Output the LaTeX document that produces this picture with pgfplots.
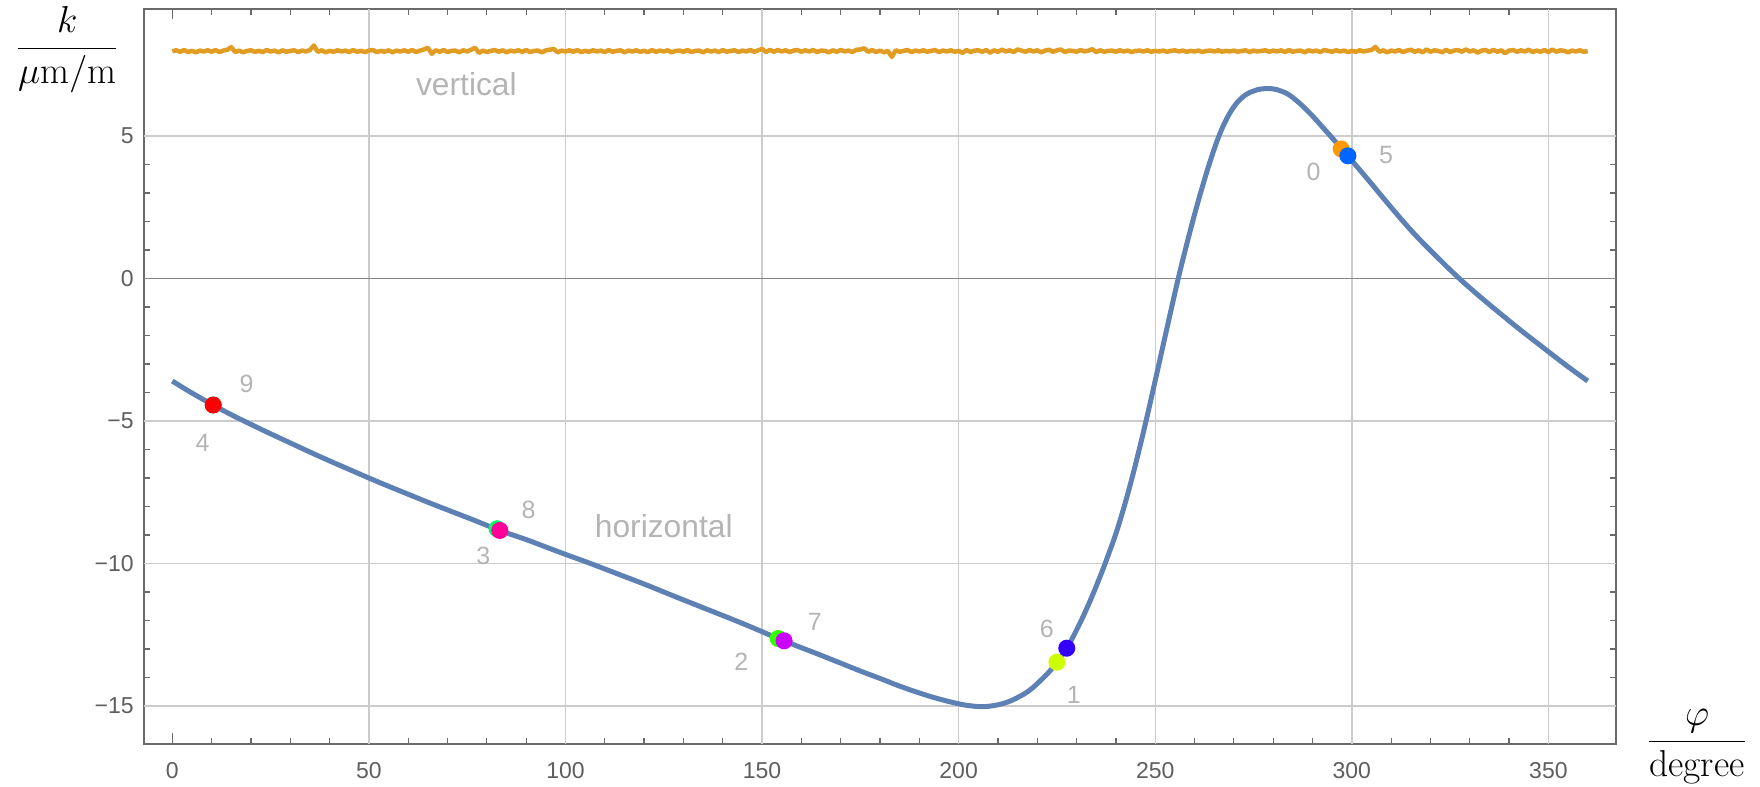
\RequirePackage{fix-cm}
\documentclass[border=0pt]{standalone}
\usepackage{pgfplots}
\pgfplotsset{compat=1.18}
\usepackage{fontspec}
\newfontfamily\mmafont{Liberation Sans}

\definecolor{curveblue}{HTML}{5E81B5}
\definecolor{vorange}{HTML}{E19C24}
\definecolor{framegray}{HTML}{6A6A6A}
\definecolor{gridgray}{HTML}{CCCCCC}
\definecolor{zerogray}{HTML}{858585}
\definecolor{tickgray}{HTML}{5E5E5E}
\definecolor{lblgray}{HTML}{B4B4B4}
\definecolor{c0}{HTML}{FF9900}
\definecolor{c1}{HTML}{CCFF00}
\definecolor{c2}{HTML}{33FF00}
\definecolor{c3}{HTML}{00FF66}
\definecolor{c4}{HTML}{00FFFF}
\definecolor{c5}{HTML}{0066FF}
\definecolor{c6}{HTML}{3300FF}
\definecolor{c7}{HTML}{CC00FF}
\definecolor{c8}{HTML}{FF0099}
\definecolor{c9}{HTML}{FF0000}

\tikzset{
  lbl/.style={font=\mmafont\fontsize{10}{12}\selectfont, text=lblgray, inner sep=0pt},
  big/.style={font=\mmafont\fontsize{12.7}{15}\selectfont, text=lblgray, inner sep=0pt},
}

\begin{document}
\begin{tikzpicture}
\begin{axis}[
  scale only axis, width=588.8pt, height=294pt,
  xmin=-7.2, xmax=367.2, ymin=-16.33, ymax=9.45,
  axis line style={draw=framegray, line width=0.6pt},
  xtick={0,50,...,350},
  ytick={-15,-10,-5,0,5},
  yticklabels={−15,−10,−5,0,5},
  minor x tick num=4, minor y tick num=4,
  tick align=inside, tick pos=both,
  major tick length=4.2pt, minor tick length=2.4pt,
  tick style={draw=framegray, line width=0.5pt},
  extra x ticks={50,100,...,350},
  extra x tick labels={},
  extra x tick style={grid=major, major tick length=0pt, tick style={draw=none}},
  extra y ticks={-15,-10,-5,5},
  extra y tick labels={},
  extra y tick style={grid=major, major tick length=0pt, tick style={draw=none}},
  major grid style={draw=gridgray, line width=0.55pt},
  tick label style={font=\mmafont\fontsize{9.2}{10}\selectfont, text=tickgray},
  /pgf/number format/assume math mode=true,
  xticklabel style={yshift=-3.8pt},
  yticklabel style={xshift=-0.6pt},
  clip=false,
]
\coordinate (fsw) at (rel axis cs:0,0);
\coordinate (fne) at (rel axis cs:1,1);

% axis line at k = 0
\draw[draw=zerogray, line width=0.6pt] (axis cs:-7.2,0) -- (axis cs:367.2,0);

% vertical component: nearly constant with measurement noise
\addplot[vorange, line width=1.8pt, line join=round] coordinates {
(0,7.97)(1,8.00)(2,7.95)(3,8.01)(4,7.94)(5,7.98)(6,7.93)(7,7.99)(8,7.96)(9,8.00)
(10,7.95)(11,8.01)(12,7.94)(13,7.99)(14,8.02)(15,8.11)(16,7.94)(17,7.99)(18,7.93)(19,7.98)
(20,8.00)(21,7.95)(22,7.98)(23,7.94)(24,8.01)(25,7.96)(26,7.99)(27,7.93)(28,8.00)(29,7.95)
(30,7.98)(31,8.00)(32,7.94)(33,7.99)(34,7.96)(35,8.01)(36,8.17)(37,7.95)(38,8.00)(39,7.93)
(40,7.98)(41,7.95)(42,8.00)(43,7.96)(44,7.99)(45,7.94)(46,8.01)(47,7.95)(48,7.98)(49,7.94)
(50,7.99)(51,8.01)(52,7.94)(53,7.98)(54,7.95)(55,8.00)(56,7.93)(57,7.99)(58,7.96)(59,8.00)
(60,7.95)(61,8.01)(62,7.94)(63,7.99)(64,8.03)(65,8.09)(66,7.88)(67,8.00)(68,7.95)(69,8.01)
(70,7.94)(71,7.98)(72,7.99)(73,7.93)(74,8.00)(75,7.96)(76,8.02)(77,8.09)(78,7.91)(79,7.99)
(80,7.94)(81,7.98)(82,8.01)(83,7.95)(84,8.00)(85,7.93)(86,7.99)(87,7.96)(88,8.00)(89,7.95)
(90,8.01)(91,7.94)(92,7.98)(93,7.99)(94,7.93)(95,8.00)(96,8.02)(97,8.05)(98,7.93)(99,7.99)
(100,7.96)(101,8.00)(102,7.95)(103,8.01)(104,7.94)(105,7.98)(106,7.95)(107,8.00)(108,7.96)(109,7.99)
(110,7.94)(111,8.01)(112,7.95)(113,7.98)(114,8.00)(115,7.93)(116,7.99)(117,7.96)(118,8.00)(119,7.95)
(120,7.98)(121,7.94)(122,8.01)(123,7.95)(124,7.99)(125,7.96)(126,8.00)(127,7.93)(128,7.98)(129,7.99)
(130,7.95)(131,8.01)(132,7.94)(133,7.98)(134,7.99)(135,7.93)(136,8.00)(137,7.96)(138,7.99)(139,7.94)
(140,8.01)(141,7.95)(142,7.98)(143,8.00)(144,7.94)(145,7.99)(146,7.96)(147,8.01)(148,7.95)(149,8.00)
(150,8.05)(151,7.94)(152,8.02)(153,7.95)(154,8.01)(155,7.96)(156,8.00)(157,7.94)(158,7.99)(159,8.01)
(160,7.95)(161,8.00)(162,7.96)(163,8.01)(164,7.94)(165,7.99)(166,7.98)(167,7.93)(168,8.00)(169,7.95)
(170,8.01)(171,7.96)(172,7.99)(173,7.94)(174,8.02)(175,8.03)(176,8.07)(177,7.95)(178,8.01)(179,7.94)
(180,7.99)(181,7.93)(182,7.98)(183,7.77)(184,8.00)(185,7.95)(186,7.98)(187,8.01)(188,7.94)(189,7.99)
(190,7.96)(191,8.00)(192,7.95)(193,7.98)(194,8.01)(195,7.94)(196,7.99)(197,7.96)(198,8.00)(199,7.95)
(200,7.98)(201,7.91)(202,8.01)(203,7.94)(204,7.99)(205,8.00)(206,7.95)(207,8.01)(208,7.92)(209,8.00)
(210,7.95)(211,8.02)(212,7.96)(213,8.00)(214,7.94)(215,8.03)(216,7.99)(217,7.95)(218,8.01)(219,7.96)
(220,8.00)(221,7.93)(222,7.99)(223,8.02)(224,7.95)(225,8.00)(226,8.03)(227,7.94)(228,7.99)(229,7.98)
(230,7.95)(231,8.01)(232,7.96)(233,7.99)(234,8.04)(235,7.94)(236,8.00)(237,7.95)(238,7.98)(239,7.99)
(240,7.95)(241,8.00)(242,7.96)(243,7.99)(244,7.94)(245,7.98)(246,7.99)(247,7.96)(248,8.00)(249,7.95)
(250,7.98)(251,7.96)(252,7.99)(253,7.95)(254,7.98)(255,8.00)(256,7.96)(257,7.99)(258,7.95)(259,7.98)
(260,7.96)(261,7.99)(262,7.94)(263,7.98)(264,7.99)(265,7.96)(266,8.00)(267,7.95)(268,7.98)(269,7.96)
(270,7.99)(271,7.95)(272,7.98)(273,8.00)(274,7.94)(275,7.99)(276,7.96)(277,7.98)(278,8.00)(279,7.95)
(280,7.99)(281,7.96)(282,8.00)(283,7.94)(284,8.01)(285,7.95)(286,7.98)(287,7.99)(288,7.93)(289,8.00)
(290,7.96)(291,7.99)(292,7.94)(293,8.01)(294,7.98)(295,7.95)(296,8.00)(297,7.96)(298,7.99)(299,7.94)
(300,7.98)(301,7.95)(302,8.00)(303,7.96)(304,7.99)(305,8.01)(306,8.12)(307,7.95)(308,8.00)(309,7.93)
(310,7.99)(311,7.96)(312,8.01)(313,7.94)(314,7.99)(315,8.02)(316,7.95)(317,8.00)(318,7.93)(319,8.03)
(320,7.95)(321,8.00)(322,7.98)(323,7.93)(324,8.02)(325,7.94)(326,7.99)(327,8.01)(328,7.95)(329,8.03)
(330,7.96)(331,8.00)(332,7.92)(333,7.99)(334,8.01)(335,7.94)(336,8.02)(337,7.95)(338,8.00)(339,7.90)
(340,7.99)(341,8.01)(342,7.95)(343,8.00)(344,7.96)(345,8.02)(346,7.94)(347,7.99)(348,7.95)(349,8.01)
(350,7.94)(351,8.03)(352,7.95)(353,8.00)(354,7.98)(355,7.93)(356,7.99)(357,7.96)(358,8.00)(359,7.95)
(360,7.97)
};

% horizontal component
\addplot[curveblue, line width=2pt, smooth, tension=0.7] coordinates {
(0,-3.60)(5,-4.02)(10.4,-4.44)(15,-4.78)(20,-5.12)(25,-5.45)(30,-5.77)(35,-6.09)
(40,-6.40)(45,-6.70)(50,-7.00)(55,-7.29)(60,-7.57)(65,-7.85)(70,-8.12)(76,-8.44)
(83.3,-8.84)(90,-9.16)(95,-9.42)(100,-9.68)(106,-9.98)(113,-10.35)(120,-10.72)
(127,-11.11)(135,-11.55)(145,-12.10)(155,-12.68)(165,-13.22)(175,-13.77)(180,-14.03)
(185,-14.30)(190,-14.54)(195,-14.75)(200,-14.92)(203,-14.99)(206,-15.02)(209,-14.98)
(212,-14.88)(215,-14.70)(218,-14.45)(221,-14.08)(223,-13.80)(225,-13.46)(227.5,-12.97)
(230,-12.33)(233,-11.45)(236,-10.45)(238,-9.72)(240,-8.95)(242,-8.05)(244,-7.05)
(246,-5.96)(248,-4.80)(250,-3.58)(252,-2.35)(254,-1.12)(256,0.08)(258,1.19)
(260,2.24)(262,3.22)(264,4.12)(266,4.92)(268,5.55)(270,6.02)(272,6.33)(274,6.52)
(276,6.62)(278.6,6.66)(281,6.62)(283,6.52)(285.2,6.32)(288,5.98)(290,5.70)
(292.4,5.33)(295,4.93)(297.3,4.56)(299,4.29)(302,3.81)(305,3.32)(308,2.82)
(311,2.33)(314,1.85)(317,1.40)(320,0.98)(323,0.57)(326,0.17)(329,-0.21)
(332,-0.57)(335,-0.92)(338,-1.26)(341,-1.60)(344,-1.93)(347,-2.25)(350,-2.57)
(353,-2.89)(356,-3.20)(360,-3.60)
};

% sample points 0..9
\addplot[only marks, mark=*, mark size=3.2pt, c0] coordinates {(297.3,4.54)};
\addplot[only marks, mark=*, mark size=3.2pt, c1] coordinates {(225.0,-13.46)};
\addplot[only marks, mark=*, mark size=3.2pt, c2] coordinates {(154.1,-12.63)};
\addplot[only marks, mark=*, mark size=3.2pt, c3] coordinates {(82.6,-8.78)};
\addplot[only marks, mark=*, mark size=3.2pt, c4] coordinates {(10.4,-4.44)};
\addplot[only marks, mark=*, mark size=3.2pt, c5] coordinates {(299.0,4.30)};
\addplot[only marks, mark=*, mark size=3.2pt, c6] coordinates {(227.5,-12.97)};
\addplot[only marks, mark=*, mark size=3.2pt, c7] coordinates {(155.6,-12.71)};
\addplot[only marks, mark=*, mark size=3.2pt, c8] coordinates {(83.3,-8.84)};
\addplot[only marks, mark=*, mark size=3.2pt, c9] coordinates {(10.4,-4.44)};

\node[lbl] at (axis cs:290.3,3.73) {0};
\node[lbl] at (axis cs:229.3,-14.60) {1};
\node[lbl] at (axis cs:144.7,-13.44) {2};
\node[lbl] at (axis cs:79.1,-9.74) {3};
\node[lbl] at (axis cs:7.7,-5.78) {4};
\node[lbl] at (axis cs:308.7,4.32) {5};
\node[lbl] at (axis cs:222.4,-12.30) {6};
\node[lbl] at (axis cs:163.4,-12.06) {7};
\node[lbl] at (axis cs:90.6,-8.13) {8};
\node[lbl] at (axis cs:18.9,-3.69) {9};

\node[big] at (axis cs:74.8,6.80) {vertical};
\node[big] at (axis cs:125,-8.68) {horizontal};

% axis labels
\node[anchor=center, inner sep=0pt, xshift=-30.7pt, yshift=-16.1pt] at (rel axis cs:0,1)
  {\fontsize{15}{18}\selectfont$\displaystyle\frac{k}{\mu\mathrm{m}/\mathrm{m}}$};
\node[anchor=center, inner sep=0pt, xshift=32.4pt, yshift=-1pt] at (rel axis cs:1,0)
  {\fontsize{15}{18}\selectfont$\displaystyle\frac{\varphi}{\mathrm{degree}}$};
\end{axis}
\pgfresetboundingbox
\path ([shift={(-57.6pt,-17.2pt)}]fsw) rectangle ([shift={(57.6pt,3.6pt)}]fne);
\end{tikzpicture}
\end{document}
